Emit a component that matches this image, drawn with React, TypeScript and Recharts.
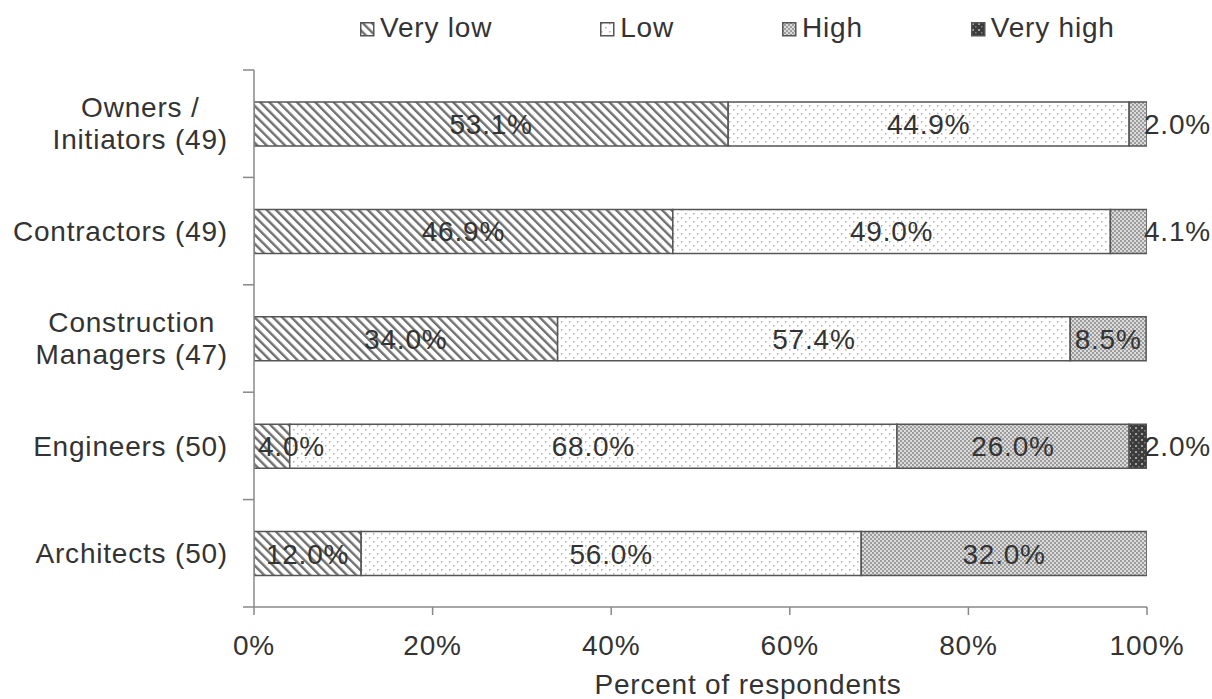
import React from 'react'
import { BarChart, Bar, XAxis, YAxis, LabelList } from 'recharts'

// respondent groups, top to bottom
const groups = [
  'Owners / Initiators (49)',
  'Contractors (49)',
  'Construction Managers (47)',
  'Engineers (50)',
  'Architects (50)',
]
// line breaks used for the axis labels
const groupLines = [
  ['Owners /', 'Initiators (49)'],
  ['Contractors (49)'],
  ['Construction', 'Managers (47)'],
  ['Engineers (50)'],
  ['Architects (50)'],
]
const veryLow = [53.1, 46.9, 34.0, 4.0, 12.0]
const low = [44.9, 49.0, 57.4, 68.0, 56.0]
const high = [2.0, 4.1, 8.5, 26.0, 32.0]
const veryHigh = [0, 0, 0, 2.0, 0]

const xTicks = [0, 20, 40, 60, 80, 100]

const seriesNames = ['Very low', 'Low', 'High', 'Very high']
const seriesKeys = ['veryLow', 'low', 'high', 'veryHigh']
const seriesFills = ['url(#pVeryLow)', 'url(#pLow)', 'url(#pHigh)', 'url(#pVeryHigh)']

const data = groups.map((g, i) => ({
  group: g,
  veryLow: veryLow[i],
  low: low[i],
  high: high[i],
  veryHigh: veryHigh[i],
}))

const FONT = '"Liberation Sans", Arial, sans-serif'
const FS = 28
const LS = 0.8
const TXT = '#333'
const AXIS = '#888'

// measure text with a canvas so labels can be placed like the original
let ctx: CanvasRenderingContext2D | null = null
const textWidth = (s: string) => {
  if (!ctx) {
    ctx = document.createElement('canvas').getContext('2d')
  }
  if (!ctx) return s.length * FS * 0.55
  ctx.font = `${FS}px "Liberation Sans", Arial, sans-serif`
  return ctx.measureText(s).width + s.length * LS
}

const PLOT_LEFT = 254
const PLOT_RIGHT = 1147

const SegmentLabel = (props: any) => {
  const { x, y, width, height, value } = props
  if (!value) return null
  const s = `${Number(value).toFixed(1)}%`
  const tw = textWidth(s)
  let left = x + width / 2 - tw / 2
  if (tw > width) {
    // narrow segments: label pushed to the bar end or start
    if (x + width >= PLOT_RIGHT - 2) left = x + width - 3
    else if (x <= PLOT_LEFT + 2) left = x + 4
  }
  return (
    <text
      x={left}
      y={y + height / 2 + 10}
      fill={TXT}
      fontSize={FS}
      fontFamily={FONT}
      letterSpacing={LS}
    >
      {s}
    </text>
  )
}

const BAND = (607 - 70) / groups.length

const GroupTick = (props: any) => {
  const { y, index } = props
  const lines = groupLines[index] ?? [props.payload.value]
  const right = 228
  const widest = Math.max(...lines.map((l: string) => textWidth(l)))
  const cx = right - widest / 2
  return (
    <g>
      <line x1={PLOT_LEFT - 11} x2={PLOT_LEFT} y1={y - BAND / 2} y2={y - BAND / 2} stroke={AXIS} strokeWidth={1.5} />
      {index === groups.length - 1 && (
        <line x1={PLOT_LEFT - 11} x2={PLOT_LEFT} y1={y + BAND / 2} y2={y + BAND / 2} stroke={AXIS} strokeWidth={1.5} />
      )}
      {lines.length === 1 ? (
        <text x={right} y={y + 10} textAnchor='end' fill={TXT} fontSize={FS} fontFamily={FONT} letterSpacing={LS}>
          {lines[0]}
        </text>
      ) : (
        lines.map((l: string, k: number) => (
          <text key={k} x={cx} y={y - 7 + k * 32} textAnchor='middle' fill={TXT} fontSize={FS} fontFamily={FONT} letterSpacing={LS}>
            {l}
          </text>
        ))
      )}
    </g>
  )
}

const PercentTick = (props: any) => {
  const { x, y, payload } = props
  return (
    <text x={x} y={y + 38} textAnchor='middle' fill={TXT} fontSize={FS} fontFamily={FONT} letterSpacing={LS}>
      {`${payload.value}%`}
    </text>
  )
}

const Patterns = () => (
  <defs>
    <pattern id='pVeryLow' width='6.5' height='6.5' patternUnits='userSpaceOnUse' patternTransform='rotate(-45)'>
      <rect width='6.5' height='6.5' fill='#fff' />
      <rect width='2.4' height='6.5' fill='#707070' />
    </pattern>
    <pattern id='pLow' width='8' height='8' patternUnits='userSpaceOnUse'>
      <rect width='8' height='8' fill='#fff' />
      <rect x='1' y='1' width='1.5' height='1.5' fill='#b0b0b0' />
      <rect x='5' y='5' width='1.5' height='1.5' fill='#b0b0b0' />
    </pattern>
    <pattern id='pHigh' width='4' height='4' patternUnits='userSpaceOnUse'>
      <rect width='4' height='4' fill='#dcdcdc' />
      <rect x='0' y='0' width='2' height='2' fill='#9c9c9c' />
      <rect x='2' y='2' width='2' height='2' fill='#9c9c9c' />
    </pattern>
    <pattern id='pVeryHigh' width='6' height='6' patternUnits='userSpaceOnUse'>
      <rect width='6' height='6' fill='#3c3c3c' />
      <rect x='1' y='1' width='2' height='2' fill='#a0a0a0' />
      <rect x='4' y='4' width='1.5' height='1.5' fill='#808080' />
    </pattern>
  </defs>
)

const LegendRow = () => (
  <div
    style={{
      position: 'absolute',
      left: 360,
      top: 10,
      display: 'flex',
      gap: 108,
      fontFamily: FONT,
      fontSize: FS,
      letterSpacing: LS,
      color: TXT,
      lineHeight: '36px',
      whiteSpace: 'nowrap',
    }}
  >
    {seriesNames.map((n, i) => (
      <div key={n} style={{ display: 'flex', alignItems: 'center' }}>
        <svg width={15} height={15} style={{ marginRight: 5, marginTop: 2 }}>
          <rect x={0.75} y={0.75} width={13} height={13} fill={seriesFills[i]} stroke='#555' strokeWidth={1.5} />
        </svg>
        <span>{n}</span>
      </div>
    ))}
  </div>
)

export default function App() {
  return (
    <div style={{ position: 'absolute', left: 0, top: 0, width: 1212, height: 699, background: '#fff' }}>
      <LegendRow />
      <BarChart
        width={1212}
        height={699}
        data={data}
        layout='vertical'
        margin={{ top: 70, right: 65, bottom: 0, left: 0 }}
        barSize={44}
      >
        <Patterns />
        <XAxis
          type='number'
          domain={[0, 100]}
          ticks={xTicks}
          height={92}
          stroke={AXIS}
          strokeWidth={1.5}
          tickSize={8}
          tick={<PercentTick />}
          allowDataOverflow
          label={() => (
            <text
              x={748}
              y={694}
              textAnchor='middle'
              fill={TXT}
              fontSize={FS}
              fontFamily={FONT}
              letterSpacing={LS}
            >
              Percent of respondents
            </text>
          )}
        />
        <YAxis
          type='category'
          dataKey='group'
          width={254}
          stroke={AXIS}
          strokeWidth={1.5}
          tickLine={false}
          tick={<GroupTick />}
          interval={0}
        />
        {seriesKeys.map((k, i) => (
          <Bar
            key={k}
            dataKey={k}
            name={seriesNames[i]}
            stackId='a'
            fill={seriesFills[i]}
            stroke='#555'
            strokeWidth={1.5}
            isAnimationActive={false}
          >
            <LabelList dataKey={k} content={<SegmentLabel />} />
          </Bar>
        ))}
      </BarChart>
    </div>
  )
}
